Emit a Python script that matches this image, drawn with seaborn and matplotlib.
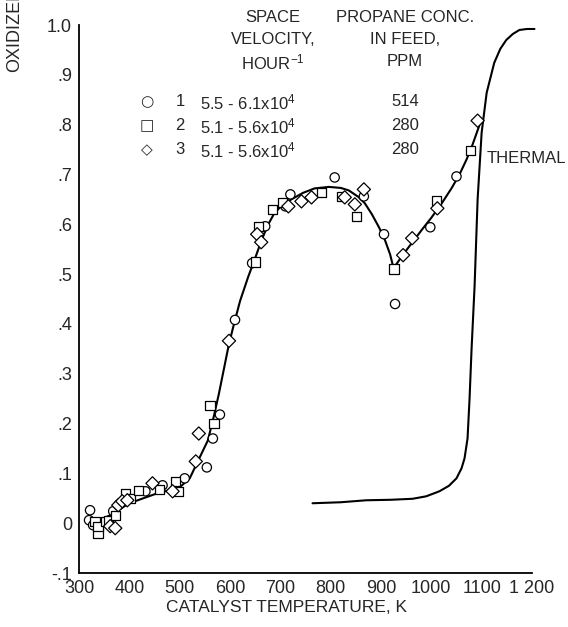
import seaborn as sns
import pandas as pd
import matplotlib.pyplot as plt

sns.set_style("white")
plt.rcParams['font.family'] = ['Liberation Sans Narrow', 'Liberation Sans', 'DejaVu Sans']
plt.rcParams['mathtext.default'] = 'regular'

# measured points, one list per run
t1 = [320, 322, 328, 368, 378, 432, 466, 510, 554, 566, 580, 610, 644, 670, 710, 720, 808, 866, 906, 928, 998, 1050]
y1 = [.006, .026, -.004, .024, .036, .064, .076, .09, .112, .17, .218, .408, .522, .596, .636, .66, .694, .656, .58, .44, .594, .696]

t2 = [332, 338, 338, 352, 358, 372, 392, 402, 418, 460, 492, 498, 560, 568, 651, 656, 684, 704, 782, 822, 852, 926, 1010, 1078]
y2 = [.004, -.02, -.006, .004, .006, .016, .06, .05, .066, .068, .084, .064, .236, .2, .524, .596, .63, .644, .664, .656, .616, .51, .648, .748]

t3 = [362, 372, 378, 386, 396, 446, 486, 532, 538, 598, 654, 662, 716, 742, 762, 828, 848, 866, 944, 962, 1012, 1092]
y3 = [-.006, -.01, .036, .044, .046, .08, .064, .124, .18, .366, .58, .564, .636, .646, .654, .654, .64, .67, .538, .572, .632, .808]

# faired curve through the catalyst data
fit_t = [325, 360, 400, 450, 500, 520, 536, 556, 568, 578, 588, 598, 608, 620, 636, 650, 662, 675, 688,
         705, 722, 745, 768, 796, 820, 836, 855, 868, 882, 896, 908, 918, 925,
         946, 964, 982, 1000, 1022, 1040, 1056, 1070, 1082, 1096]
fit_y = [0.0, .015, .04, .058, .072, .09, .124, .166, .215, .26, .31, .36, .40, .446, .494, .532, .566, .598, .622,
         .64, .65, .663, .672, .675, .673, .668, .655, .642, .62, .594, .568, .54, .512,
         .542, .566, .59, .613, .644, .672, .70, .73, .76, .80]

# thermal (no catalyst) curve
th_t = [764, 820, 871, 920, 963, 990, 1016, 1035, 1050, 1060, 1066, 1072, 1076, 1080, 1086, 1092,
        1100, 1110, 1125, 1137, 1149, 1162, 1175, 1190, 1205]
th_y = [.04, .042, .046, .047, .049, .054, .064, .075, .09, .11, .13, .17, .25, .35, .476, .65,
        .784, .864, .924, .952, .97, .982, .99, .992, .992]

runs = pd.DataFrame({
    "temp": t1 + t2 + t3,
    "frac": y1 + y2 + y3,
    "run": ["1"] * len(t1) + ["2"] * len(t2) + ["3"] * len(t3),
})

W, H = 568, 627
fig = plt.figure(figsize=(W / 100, H / 100), dpi=100)
ax = fig.add_axes([79 / W, 1 - 573 / H, (537 - 79) / W, (573 - 25) / H])

sns.lineplot(x=fit_t, y=fit_y, ax=ax, color='black', lw=1.5, sort=False)
sns.lineplot(x=th_t, y=th_y, ax=ax, color='black', lw=1.5, sort=False)
sns.scatterplot(data=runs, x="temp", y="frac", style="run", markers={"1": "o", "2": "s", "3": "D"},
                color='white', edgecolor='black', linewidth=0.9, s=45, legend=False, ax=ax, zorder=3)

ax.set_xlim(300, 1210)
ax.set_ylim(-0.1, 1.0)
ax.spines['top'].set_visible(False)
ax.spines['right'].set_visible(False)
ax.spines['bottom'].set_bounds(300, 1200)
for s in ['left', 'bottom']:
    ax.spines[s].set_linewidth(1.3)
    ax.spines[s].set_color('black')

ax.set_xticks(range(300, 1201, 100))
ax.set_xticklabels(['300', '400', '500', '600', '700', '800', '900', '1000', '1100', '1 200'])
ax.set_yticks([-0.1, 0, .1, .2, .3, .4, .5, .6, .7, .8, .9, 1.0])
ax.set_yticklabels(['-.1', '0', '.1', '.2', '.3', '.4', '.5', '.6', '.7', '.8', '.9', '1.0'])
ax.tick_params(direction='in', length=11, width=1.2, color='black', labelsize=13, pad=5)
ax.set_xlabel('')
ax.set_ylabel('')

fig.text(286 / W, 1 - 607 / H, 'CATALYST TEMPERATURE, K', ha='center', va='center', fontsize=12.5)
# axis title runs off the top edge in the original scan
fig.text(15 / W, 1 - 72 / H, 'OXIDIZED', rotation=90, ha='center', va='bottom', fontsize=13)

# legend block
fs = 12
for txt, yy in [('SPACE', 18), ('VELOCITY,', 40), ('HOUR$^{-1}$', 62)]:
    fig.text(273 / W, 1 - yy / H, txt, ha='center', va='center', fontsize=fs)
for txt, yy in [('PROPANE CONC.', 18), ('IN FEED,', 40), ('PPM', 62)]:
    fig.text(405 / W, 1 - yy / H, txt, ha='center', va='center', fontsize=fs)

rows = [("\u25cb", "1", "5.5 - 6.1x10$^4$", "514", 102),
        ("\u25a1", "2", "5.1 - 5.6x10$^4$", "280", 126),
        ("\u25c7", "3", "5.1 - 5.6x10$^4$", "280", 150)]
for mk, num, sv, ppm, yy in rows:
    fig.text(147 / W, 1 - yy / H, mk, ha='center', va='center', fontsize=11, family=['DejaVu Sans'])
    fig.text(180 / W, 1 - yy / H, num, ha='center', va='center', fontsize=fs)
    fig.text(200 / W, 1 - yy / H, sv, ha='left', va='center', fontsize=fs)
    fig.text(405 / W, 1 - yy / H, ppm, ha='center', va='center', fontsize=fs)

fig.text(487 / W, 1 - 158 / H, 'THERMAL', ha='left', va='center', fontsize=12)

plt.savefig('out.png', dpi=100)
